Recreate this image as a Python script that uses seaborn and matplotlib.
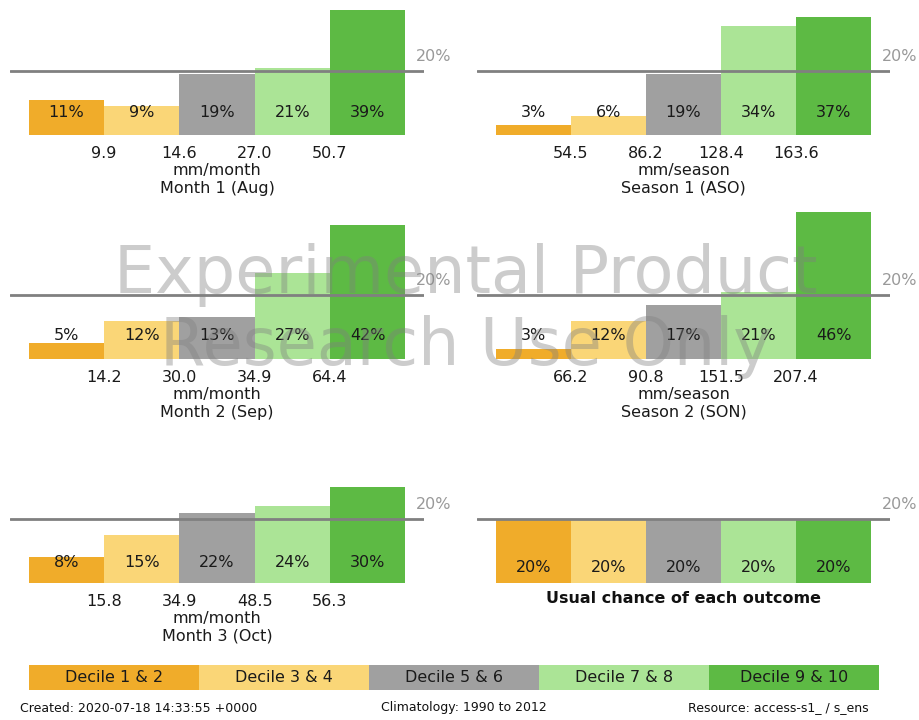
import matplotlib
matplotlib.use('Agg')
import matplotlib.pyplot as plt
import seaborn as sns
import pandas as pd

sns.set_theme(style='white')
plt.rcParams['font.family'] = ['DejaVu Sans']

# ---------------- data ----------------
categories = ['Decile 1 & 2', 'Decile 3 & 4', 'Decile 5 & 6', 'Decile 7 & 8', 'Decile 9 & 10']
colors = ['#F0AC2A', '#FAD677', '#A0A0A0', '#ABE496', '#5DBA44']

m1_probs = [11, 9, 19, 21, 39]
m1_thresholds = ['9.9', '14.6', '27.0', '50.7']
s1_probs = [3, 6, 19, 34, 37]
s1_thresholds = ['54.5', '86.2', '128.4', '163.6']
m2_probs = [5, 12, 13, 27, 42]
m2_thresholds = ['14.2', '30.0', '34.9', '64.4']
s2_probs = [3, 12, 17, 21, 46]
s2_thresholds = ['66.2', '90.8', '151.5', '207.4']
m3_probs = [8, 15, 22, 24, 30]
m3_thresholds = ['15.8', '34.9', '48.5', '56.3']
usual_probs = [20, 20, 20, 20, 20]
climatology_pct = 20

titles = ['Month 1 (Aug)', 'Season 1 (ASO)', 'Month 2 (Sep)', 'Season 2 (SON)', 'Month 3 (Oct)']
units = ['mm/month', 'mm/season', 'mm/month', 'mm/season', 'mm/month']
footer_left = 'Created: 2020-07-18 14:33:55 +0000'
footer_mid = 'Climatology: 1990 to 2012'
footer_right = 'Resource: access-s1_ / s_ens'
watermark = ['Experimental Product', 'Research Use Only']

# ---------------- layout ----------------
W, H = 920, 720
fig = plt.figure(figsize=(W / 100, H / 100), dpi=100)
YTOP = 46
PX_PER_PCT = 3.2
FS = 11.5


def px_axes(left, right, baseline, top_px=None):
    if top_px is None:
        hgt = YTOP * PX_PER_PCT
    else:
        hgt = baseline - top_px
    return fig.add_axes([left / W, (H - baseline) / H, (right - left) / W, hgt / H])


def panel(ax, probs, thresholds, unit, title, label_y, bold=False):
    df = pd.DataFrame({'cat': categories, 'prob': probs})
    sns.barplot(data=df, x='cat', y='prob', hue='cat', order=categories,
                hue_order=categories, palette=colors, width=1, linewidth=0,
                saturation=1, legend=False, ax=ax, errorbar=None)
    ax.set_xlim(-0.75, 4.75)
    ax.set_ylim(0, YTOP)
    ax.axhline(climatology_pct, color='#808080', lw=2, zorder=3)
    ax.text(4.64, climatology_pct + 4.4, f'{climatology_pct}%', color='#999999',
            fontsize=FS, ha='left', va='center', clip_on=False, zorder=5)
    for i, p in enumerate(probs):
        ax.text(i, label_y, f'{p}%', ha='center', va='center', fontsize=FS,
                color='#1a1a1a', zorder=4)
    for s in ax.spines.values():
        s.set_visible(False)
    ax.set_yticks([])
    ax.set_ylabel('')
    ax.patch.set_alpha(0)
    if thresholds:
        ax.set_xticks([0.5, 1.5, 2.5, 3.5], thresholds)
        ax.tick_params(axis='x', length=0, pad=8, labelsize=FS, labelcolor='#1a1a1a')
        ax.set_xlabel(f'{unit}\n{title}', fontsize=FS, labelpad=1, color='#1a1a1a',
                      linespacing=1.25)
    else:
        ax.set_xticks([])
        ax.set_xlabel(title, fontsize=FS, labelpad=6, fontweight='bold', color='#111111')


left_col = (10, 424)
right_col = (477, 890)
rows = [135, 359, 583]

ax1 = px_axes(*left_col, rows[0])
panel(ax1, m1_probs, m1_thresholds, units[0], titles[0], 6.9)
ax2 = px_axes(*right_col, rows[0])
panel(ax2, s1_probs, s1_thresholds, units[1], titles[1], 6.9)
ax3 = px_axes(*left_col, rows[1])
panel(ax3, m2_probs, m2_thresholds, units[2], titles[2], 7.4)
ax4 = px_axes(*right_col, rows[1])
panel(ax4, s2_probs, s2_thresholds, units[3], titles[3], 7.4)
ax5 = px_axes(*left_col, rows[2])
panel(ax5, m3_probs, m3_thresholds, units[4], titles[4], 6.3)
ax6 = px_axes(*right_col, rows[2])
panel(ax6, usual_probs, None, '', 'Usual chance of each outcome', 5.0)

# legend strip
axl = px_axes(29, 879, 690, top_px=665)
ldf = pd.DataFrame({'cat': categories, 'v': [1] * 5})
sns.barplot(data=ldf, x='cat', y='v', hue='cat', order=categories, hue_order=categories,
            palette=colors, width=1, linewidth=0, saturation=1, legend=False, ax=axl,
            errorbar=None)
axl.set_xlim(-0.5, 4.5)
axl.set_ylim(0, 1)
for i, c in enumerate(categories):
    axl.text(i, 0.5, c, ha='center', va='center', fontsize=FS, color='#1a1a1a')
axl.axis('off')

# footer
fig.text(20 / W, 1 - 708 / H, footer_left, ha='left', va='center', fontsize=9, color='#111111')
fig.text(464 / W, 1 - 708 / H, footer_mid, ha='center', va='center', fontsize=9, color='#111111')
fig.text(869 / W, 1 - 708 / H, footer_right, ha='right', va='center', fontsize=9, color='#111111')

# watermark
fig.text(466 / W, 1 - 293 / H, watermark[0], ha='center', va='baseline', fontsize=47,
         color='#808080', alpha=0.4, zorder=10)
fig.text(466 / W, 1 - 365 / H, watermark[1], ha='center', va='baseline', fontsize=47,
         color='#808080', alpha=0.4, zorder=10)

fig.savefig('out.png', dpi=100)
